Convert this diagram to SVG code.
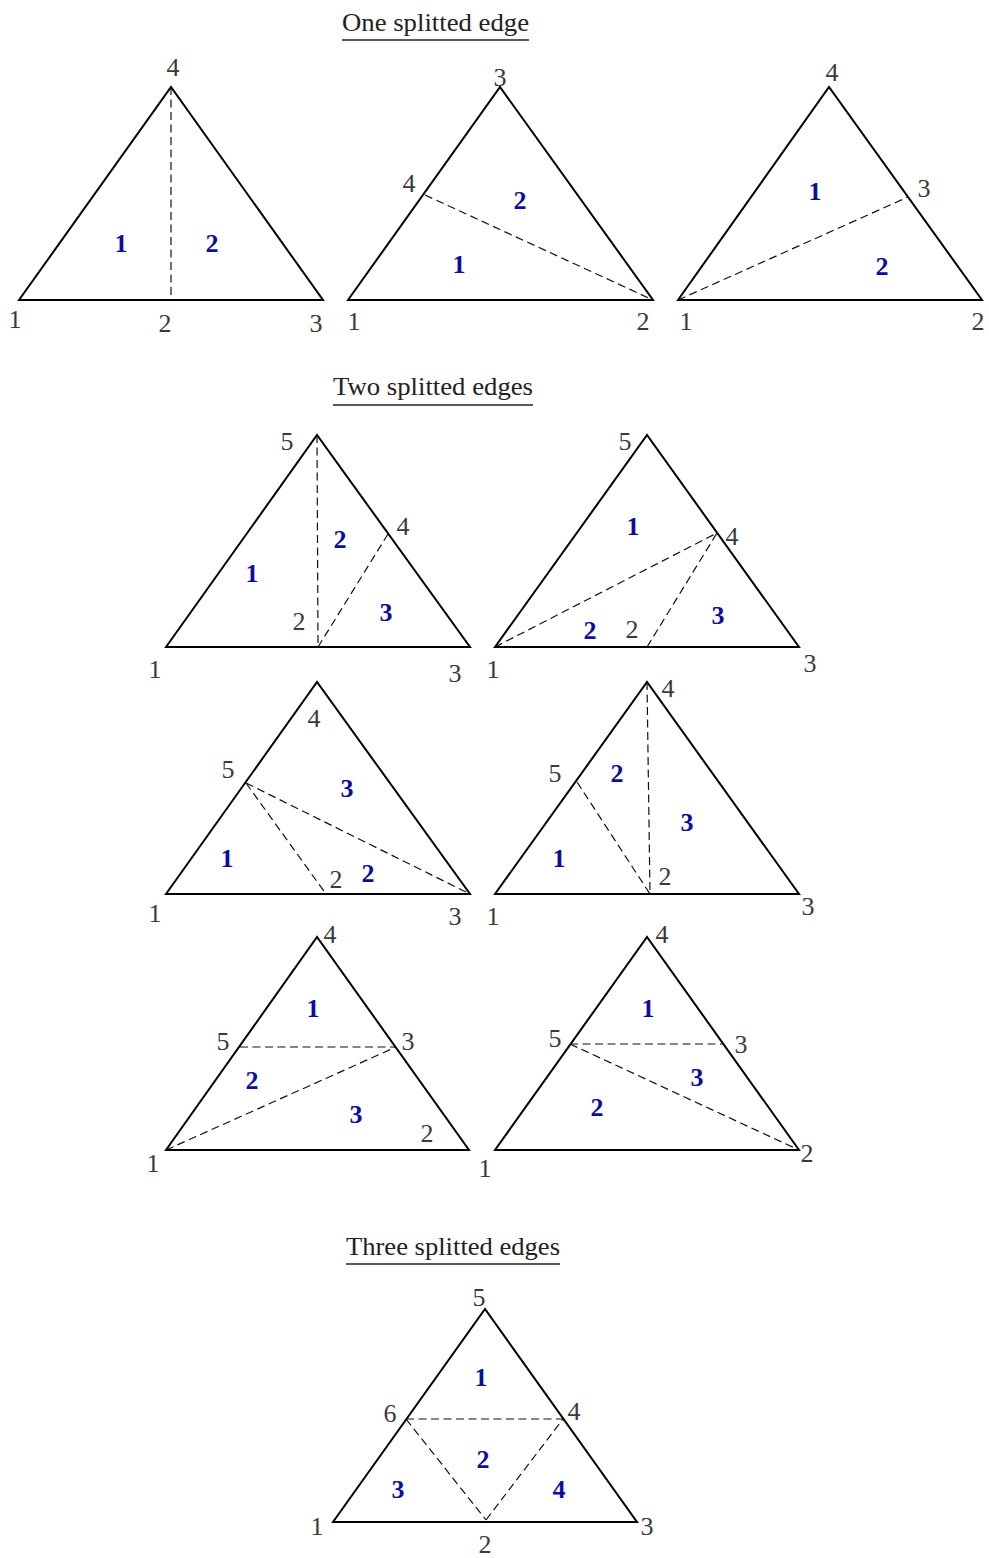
<svg xmlns="http://www.w3.org/2000/svg" width="989" height="1558" viewBox="0 0 989 1558">
<style>
.tri{fill:none;stroke:#000;stroke-width:2;stroke-linejoin:miter}
.cut{stroke:#111;stroke-width:1.2;stroke-dasharray:8 4.5;fill:none}
.v{font-family:"Liberation Serif",serif;font-size:26px;fill:#3a3a3a;text-anchor:middle}
.r{font-family:"Liberation Serif",serif;font-size:26px;font-weight:bold;fill:#0d0d9c;text-anchor:middle}
.title{font-family:"Liberation Serif",serif;font-size:25px;fill:#222}
.ul{stroke:#222;stroke-width:1.5}
</style>
<rect width="989" height="1558" fill="#fff"/>

<g id="title-one">
<text class="title" x="342" y="31" textLength="187" lengthAdjust="spacingAndGlyphs">One splitted edge</text>
<line class="ul" x1="342" y1="40" x2="529" y2="40"/>
</g>
<g id="title-two">
<text class="title" x="333" y="395" textLength="200" lengthAdjust="spacingAndGlyphs">Two splitted edges</text>
<line class="ul" x1="333" y1="405" x2="533" y2="405"/>
</g>
<g id="title-three">
<text class="title" x="346" y="1255" textLength="214" lengthAdjust="spacingAndGlyphs">Three splitted edges</text>
<line class="ul" x1="346" y1="1264" x2="560" y2="1264"/>
</g>

<g id="one-a">
<polygon class="tri" points="19,300 171,87 323,300"/>
<line class="cut" x1="171" y1="87" x2="171" y2="300"/>
<text class="v" x="173" y="76">4</text>
<text class="v" x="15" y="328">1</text>
<text class="v" x="165" y="332">2</text>
<text class="v" x="316" y="332">3</text>
<text class="r" x="121" y="252">1</text>
<text class="r" x="212" y="252">2</text>
</g>

<g id="one-b">
<polygon class="tri" points="348,300 500,87 653,300"/>
<line class="cut" x1="425" y1="195" x2="653" y2="300"/>
<text class="v" x="500" y="86">3</text>
<text class="v" x="409" y="192">4</text>
<text class="v" x="354" y="330">1</text>
<text class="v" x="643" y="330">2</text>
<text class="r" x="520" y="209">2</text>
<text class="r" x="459" y="273">1</text>
</g>

<g id="one-c">
<polygon class="tri" points="678,300 829,87 982,300"/>
<line class="cut" x1="678" y1="300" x2="908" y2="197"/>
<text class="v" x="832" y="81">4</text>
<text class="v" x="924" y="197">3</text>
<text class="v" x="686" y="330">1</text>
<text class="v" x="978" y="330">2</text>
<text class="r" x="815" y="200">1</text>
<text class="r" x="882" y="275">2</text>
</g>

<g id="two-a">
<polygon class="tri" points="166,647 317,435 470,647"/>
<line class="cut" x1="317" y1="435" x2="318" y2="647"/>
<line class="cut" x1="318" y1="647" x2="388" y2="534"/>
<text class="v" x="287" y="450">5</text>
<text class="v" x="403" y="535">4</text>
<text class="v" x="299" y="630">2</text>
<text class="v" x="155" y="678">1</text>
<text class="v" x="455" y="682">3</text>
<text class="r" x="252" y="582">1</text>
<text class="r" x="340" y="548">2</text>
<text class="r" x="386" y="621">3</text>
</g>

<g id="two-b">
<polygon class="tri" points="495,647 647,435 799,647"/>
<line class="cut" x1="495" y1="647" x2="717" y2="533"/>
<line class="cut" x1="647" y1="647" x2="717" y2="533"/>
<text class="v" x="625" y="450">5</text>
<text class="v" x="732" y="545">4</text>
<text class="v" x="632" y="638">2</text>
<text class="v" x="493" y="678">1</text>
<text class="v" x="810" y="672">3</text>
<text class="r" x="633" y="535">1</text>
<text class="r" x="590" y="639">2</text>
<text class="r" x="718" y="624">3</text>
</g>

<g id="two-c">
<polygon class="tri" points="166,894 317,682 470,894"/>
<line class="cut" x1="246" y1="783" x2="326" y2="894"/>
<line class="cut" x1="246" y1="783" x2="470" y2="894"/>
<text class="v" x="314" y="727">4</text>
<text class="v" x="228" y="778">5</text>
<text class="v" x="336" y="888">2</text>
<text class="v" x="155" y="922">1</text>
<text class="v" x="455" y="925">3</text>
<text class="r" x="347" y="797">3</text>
<text class="r" x="227" y="867">1</text>
<text class="r" x="368" y="882">2</text>
</g>

<g id="two-d">
<polygon class="tri" points="495,894 647,682 799,894"/>
<line class="cut" x1="577" y1="782" x2="650" y2="894"/>
<line class="cut" x1="647" y1="682" x2="650" y2="894"/>
<text class="v" x="668" y="697">4</text>
<text class="v" x="555" y="782">5</text>
<text class="v" x="665" y="885">2</text>
<text class="v" x="493" y="925">1</text>
<text class="v" x="808" y="915">3</text>
<text class="r" x="617" y="782">2</text>
<text class="r" x="687" y="831">3</text>
<text class="r" x="559" y="867">1</text>
</g>

<g id="two-e">
<polygon class="tri" points="166,1150 317,937 469,1150"/>
<line class="cut" x1="240" y1="1047" x2="396" y2="1047"/>
<line class="cut" x1="166" y1="1150" x2="396" y2="1047"/>
<text class="v" x="330" y="943">4</text>
<text class="v" x="223" y="1050">5</text>
<text class="v" x="408" y="1050">3</text>
<text class="v" x="427" y="1142">2</text>
<text class="v" x="153" y="1172">1</text>
<text class="r" x="313" y="1017">1</text>
<text class="r" x="252" y="1089">2</text>
<text class="r" x="356" y="1123">3</text>
</g>

<g id="two-f">
<polygon class="tri" points="495,1150 647,937 799,1150"/>
<line class="cut" x1="570" y1="1044" x2="723" y2="1044"/>
<line class="cut" x1="570" y1="1044" x2="799" y2="1150"/>
<text class="v" x="662" y="943">4</text>
<text class="v" x="555" y="1047">5</text>
<text class="v" x="741" y="1053">3</text>
<text class="v" x="807" y="1162">2</text>
<text class="v" x="485" y="1177">1</text>
<text class="r" x="648" y="1017">1</text>
<text class="r" x="697" y="1086">3</text>
<text class="r" x="597" y="1116">2</text>
</g>

<g id="three-a">
<polygon class="tri" points="333,1522 485,1309 637,1522"/>
<line class="cut" x1="406" y1="1419" x2="563" y2="1419"/>
<line class="cut" x1="406" y1="1419" x2="486" y2="1520"/>
<line class="cut" x1="486" y1="1520" x2="563" y2="1419"/>
<text class="v" x="479" y="1306">5</text>
<text class="v" x="390" y="1422">6</text>
<text class="v" x="574" y="1420">4</text>
<text class="v" x="317" y="1535">1</text>
<text class="v" x="647" y="1535">3</text>
<text class="v" x="485" y="1553">2</text>
<text class="r" x="481" y="1386">1</text>
<text class="r" x="483" y="1468">2</text>
<text class="r" x="398" y="1498">3</text>
<text class="r" x="559" y="1498">4</text>
</g>
</svg>
